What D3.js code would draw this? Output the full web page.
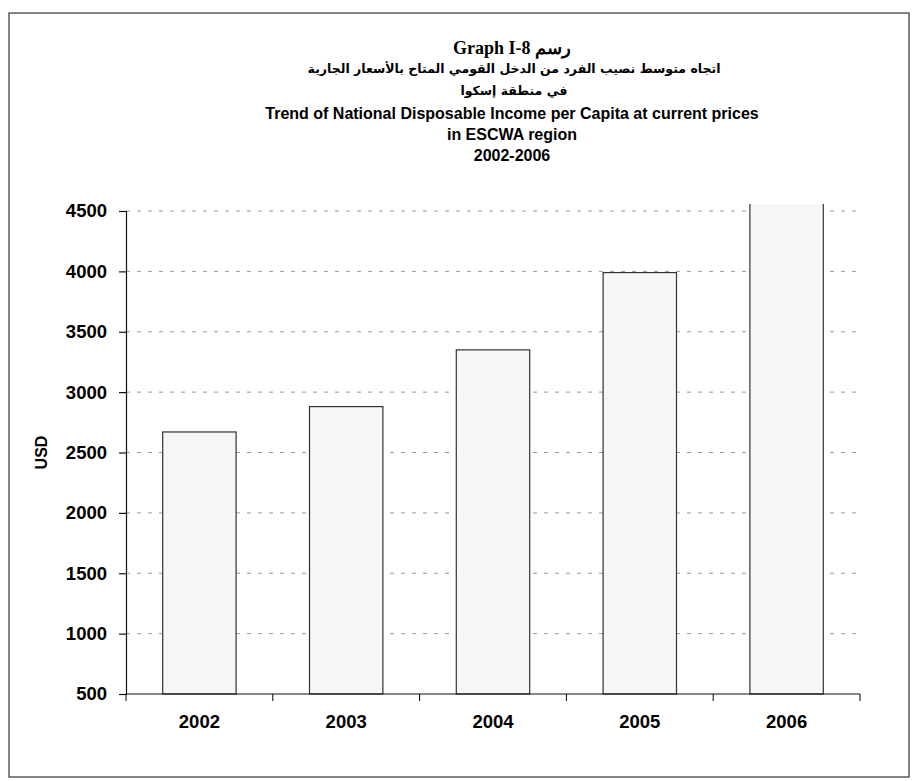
<!DOCTYPE html>
<html>
<head>
<meta charset="utf-8">
<script src="https://cdn.jsdelivr.net/npm/d3@7"></script>
<style>
body{margin:0;background:#fff;}
text{font-family:"Liberation Sans",Arial,sans-serif;}
</style>
</head>
<body>
<script>
var years = ['2002','2003','2004','2005','2006'];
var income = [2670, 2880, 3350, 3990, 4700];
var yTicks = [500,1000,1500,2000,2500,3000,3500,4000,4500];
var titleLines = ['اتجاه متوسط نصيب الفرد من الدخل القومي المتاح بالأسعار الجارية','في منطقة إسكوا'];
var titleEn = ['Trend of National Disposable Income per Capita at current prices','in ESCWA region','2002-2006'];

var width = 913, height = 781;
var margin = {left:126, right:53, top:211, bottom:87};
var svg = d3.select('body').append('svg').attr('width',width).attr('height',height);

svg.append('rect').attr('x',9).attr('y',13).attr('width',900).attr('height',764)
	.attr('fill','none').attr('stroke','#333').attr('stroke-width',1.2);

// titles
svg.append('text').attr('x',512).attr('y',54).attr('text-anchor','middle')
	.style('font-family','"Liberation Serif","Times New Roman",serif').style('font-weight','bold').style('font-size','18px')
	.text('Graph I-8 رسم');
titleLines.forEach(function(s,i){
	svg.append('text').attr('x',514).attr('y',73+i*22).attr('text-anchor','middle')
		.style('font-family','"DejaVu Sans",sans-serif').style('font-weight','bold').style('font-size','12.5px')
		.attr('direction','rtl').text(s);
});
titleEn.forEach(function(s,i){
	svg.append('text').attr('x',512).attr('y',119+i*21).attr('text-anchor','middle')
		.style('font-weight','bold').style('font-size','16px').text(s);
});

var x = d3.scaleBand().domain(years).range([margin.left, width - margin.right]).paddingInner(0.5).paddingOuter(0.25);
var y = d3.scaleLinear().domain([500,4500]).range([height - margin.bottom, margin.top]);

// grid lines
svg.append('g').selectAll('line').data(yTicks.slice(1)).enter().append('line')
	.attr('x1',margin.left).attr('x2',width - margin.right)
	.attr('y1',function(d){return y(d);}).attr('y2',function(d){return y(d);})
	.attr('stroke','#999').attr('stroke-width',1).attr('stroke-dasharray','4,7');

svg.append('clipPath').attr('id','plot').append('rect')
	.attr('x',margin.left).attr('y',y(4500)-7).attr('width',width).attr('height',height);

svg.append('g').attr('clip-path','url(#plot)').selectAll('rect').data(income).enter().append('rect')
	.attr('x',function(d,i){return x(years[i]);})
	.attr('width',x.bandwidth())
	.attr('y',function(d){return y(d);})
	.attr('height',function(d){return y(500) - y(d);})
	.attr('fill','#f6f6f6').attr('stroke','#333').attr('stroke-width',1.2);

// axes
var yAxis = d3.axisLeft(y).tickValues(yTicks).tickSize(7).tickPadding(12).tickFormat(d3.format('d'));
var gy = svg.append('g').attr('transform','translate('+margin.left+',0)').call(yAxis);
gy.selectAll('text').style('font-size','18.5px').style('font-weight','bold').attr('fill','#000');

var xAxis = d3.axisBottom(x).tickSize(0).tickPadding(21);
var gx = svg.append('g').attr('transform','translate(0,'+y(500)+')').call(xAxis);
gx.selectAll('text').style('font-size','18.5px').style('font-weight','bold').attr('fill','#000');
gx.select('.domain').attr('d','M'+margin.left+',0H'+(width - margin.right));

var gap = x.step() - x.bandwidth();
var bounds = years.map(function(d){return x(d) - gap/2;}).concat([width - margin.right]);
gx.selectAll('.bound').data(bounds).enter().append('line').attr('class','bound')
	.attr('x1',function(d){return d;}).attr('x2',function(d){return d;})
	.attr('y1',0).attr('y2',7).attr('stroke','#000');

svg.selectAll('.domain, .tick line').attr('stroke','#111').attr('stroke-width',1.2);

svg.append('text').attr('transform','translate(47,'+y(2500)+') rotate(-90)')
	.attr('text-anchor','middle').style('font-size','16px').style('font-weight','bold').text('USD');
</script>
</body>
</html>
